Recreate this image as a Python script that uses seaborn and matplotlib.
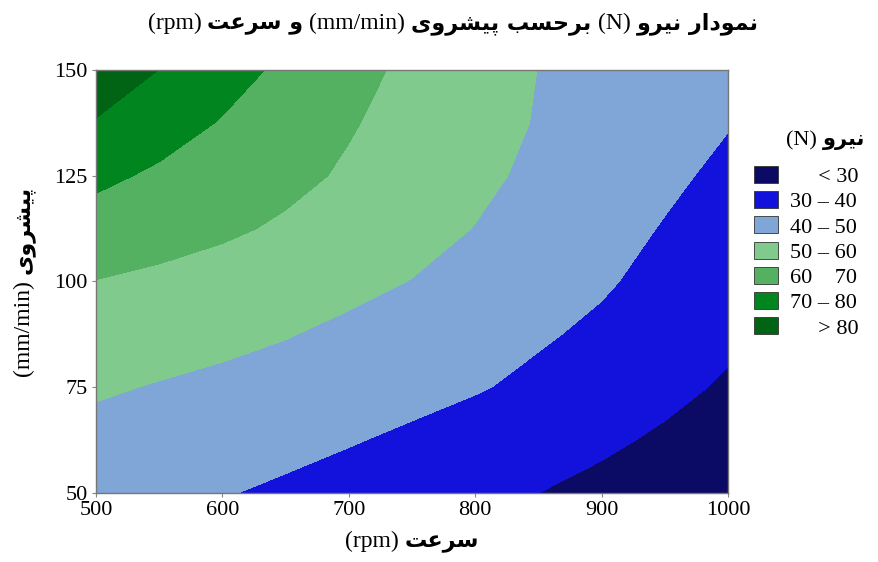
import numpy as np
import matplotlib
matplotlib.use("Agg")
import matplotlib.pyplot as plt
from matplotlib.patches import Patch
from matplotlib.transforms import IdentityTransform
import seaborn as sns

# speed (rpm) x feed (mm/min) grid, force values
speeds = [500, 550, 600, 650, 700, 750, 800, 850, 900, 950, 1000]
feeds = [50, 62.5, 75, 87.5, 100, 112.5, 125, 137.5, 150]
force = [
    [44.7, 42.6, 40.5, 38.5, 36.3, 34.2, 32.1, 30.0, 27.8, 25.4, 23.0],
    [47.4, 46.0, 44.5, 42.6, 40.6, 38.4, 35.9, 33.6, 31.4, 28.8, 26.0],
    [51.0, 49.5, 48.1, 46.5, 44.7, 42.8, 40.7, 38.0, 35.3, 32.1, 29.0],
    [55.2, 53.6, 52.1, 50.4, 48.2, 46.1, 43.5, 41.0, 38.3, 35.0, 31.6],
    [59.8, 58.2, 56.4, 54.4, 52.2, 49.8, 47.0, 44.0, 41.0, 37.4, 33.7],
    [65.8, 63.6, 61.4, 58.8, 55.8, 52.8, 49.8, 46.4, 43.0, 39.5, 36.0],
    [72.1, 68.5, 65.4, 62.2, 58.9, 55.3, 51.8, 48.3, 44.9, 41.6, 38.2],
    [79.3, 74.2, 69.4, 65.0, 60.7, 56.9, 53.1, 49.5, 46.5, 43.4, 40.4],
    [87.0, 79.9, 73.8, 68.1, 62.8, 58.1, 54.0, 49.9, 47.3, 44.8, 42.5],
]
levels = [0, 30, 40, 50, 60, 70, 80, 120]
colors = ['#0b0b66', '#1212dc', '#7fa6d7', '#80ca8e', '#55b162', '#00851f', '#006414']
legend_labels = ['     < 30', '30 \u2013 40', '40 \u2013 50', '50 \u2013 60',
                 '60    70', '70 \u2013 80', '     > 80']

title_runs = [('نمودار نیرو', 'fa'), ('(N)', 'en'), ('برحسب پیشروی', 'fa'),
              ('(mm/min)', 'en'), ('و سرعت', 'fa'), ('(rpm)', 'en')]
xlabel_runs = [('سرعت', 'fa'), ('(rpm)', 'en')]
ylabel_runs = [('پیشروی', 'fa'), ('(mm/min)', 'en')]
legend_title_runs = [('نیرو', 'fa'), ('(N)', 'en')]

# arabic presentation forms: isolated, final, initial, medial
FORMS = {
    'ا': ('\uFE8D', '\uFE8E', None, None),
    'ب': ('\uFE8F', '\uFE90', '\uFE91', '\uFE92'),
    'پ': ('\uFB56', '\uFB57', '\uFB58', '\uFB59'),
    'ت': ('\uFE95', '\uFE96', '\uFE97', '\uFE98'),
    'ح': ('\uFEA1', '\uFEA2', '\uFEA3', '\uFEA4'),
    'د': ('\uFEA9', '\uFEAA', None, None),
    'ر': ('\uFEAD', '\uFEAE', None, None),
    'س': ('\uFEB1', '\uFEB2', '\uFEB3', '\uFEB4'),
    'ش': ('\uFEB5', '\uFEB6', '\uFEB7', '\uFEB8'),
    'ع': ('\uFEC9', '\uFECA', '\uFECB', '\uFECC'),
    'م': ('\uFEE1', '\uFEE2', '\uFEE3', '\uFEE4'),
    'ن': ('\uFEE5', '\uFEE6', '\uFEE7', '\uFEE8'),
    'و': ('\uFEED', '\uFEEE', None, None),
    'ی': ('\uFBFC', '\uFBFD', '\uFBFE', '\uFBFF'),
}


def shape(word):
    out = []
    for i, ch in enumerate(word):
        f = FORMS.get(ch)
        if f is None:
            out.append(ch)
            continue
        prev = FORMS.get(word[i - 1]) if i > 0 else None
        nxt = FORMS.get(word[i + 1]) if i + 1 < len(word) else None
        jp = prev is not None and prev[2] is not None
        jn = nxt is not None and f[2] is not None
        if jp and jn:
            out.append(f[3])
        elif jp:
            out.append(f[1])
        elif jn:
            out.append(f[2])
        else:
            out.append(f[0])
    return ''.join(reversed(out))


def visual(runs):
    out = []
    for txt, kind in reversed(runs):
        if kind == 'fa':
            txt = ' '.join(shape(w) for w in reversed(txt.split()))
        out.append((txt, kind))
    return out


sns.set_theme(style='white')
plt.rcParams['font.family'] = ['Liberation Serif', 'DejaVu Sans']
plt.rcParams['text.color'] = 'black'
plt.rcParams['xtick.color'] = 'black'
plt.rcParams['ytick.color'] = 'black'

fig = plt.figure(figsize=(8.79, 5.62), dpi=100)
ax = fig.add_axes([96 / 879, 1 - 493 / 562, (728 - 96) / 879, (493 - 70) / 562])

ax.contourf(speeds, feeds, force, levels=levels, colors=colors)
ax.set_xlim(500, 1000)
ax.set_ylim(50, 150)
ax.set_xticks(range(500, 1001, 100))
ax.set_yticks([50, 75, 100, 125, 150])
ax.tick_params(labelsize=16, direction='out', length=3, width=0.8,
               color='#888888', labelcolor='black', pad=3,
               bottom=True, left=True)
for s in ax.spines.values():
    s.set_color('#777777')
    s.set_linewidth(1.0)


def place(runs, x, y, size, rotation=0, gap=6):
    r = fig.canvas.get_renderer()
    texts, lens = [], []
    for txt, kind in visual(runs):
        if kind == 'fa':
            kw = dict(family='DejaVu Sans', weight='bold', fontsize=size - 1)
        else:
            kw = dict(family='Liberation Serif', fontsize=size)
        t = fig.text(0, 0, txt, rotation=rotation, rotation_mode='anchor',
                     ha='left', va='baseline', transform=IdentityTransform(),
                     color='black', **kw)
        bb = t.get_window_extent(r)
        texts.append(t)
        lens.append(bb.height if rotation else bb.width)
    pos = -(sum(lens) + gap * (len(lens) - 1)) / 2
    for t, L in zip(texts, lens):
        t.set_position((x, y + pos) if rotation else (x + pos, y))
        pos += L + gap


place(title_runs, 453, 533, 17)
place(xlabel_runs, 412, 15, 17)
place(ylabel_runs, 29, 281, 17, rotation=90)
place(legend_title_runs, 826, 417, 16)

handles = [Patch(facecolor=c, edgecolor='#333333', linewidth=0.6) for c in colors]
leg = fig.legend(handles, legend_labels, loc='upper left',
                 bbox_to_anchor=(754 / 879, 1 - 166 / 562), frameon=False,
                 prop={'family': 'Liberation Serif', 'size': 16},
                 handlelength=1.1, handleheight=0.8, labelspacing=0.18,
                 handletextpad=0.5, borderpad=0, borderaxespad=0)
for t in leg.get_texts():
    t.set_color('black')

fig.savefig('out.png', dpi=100)
